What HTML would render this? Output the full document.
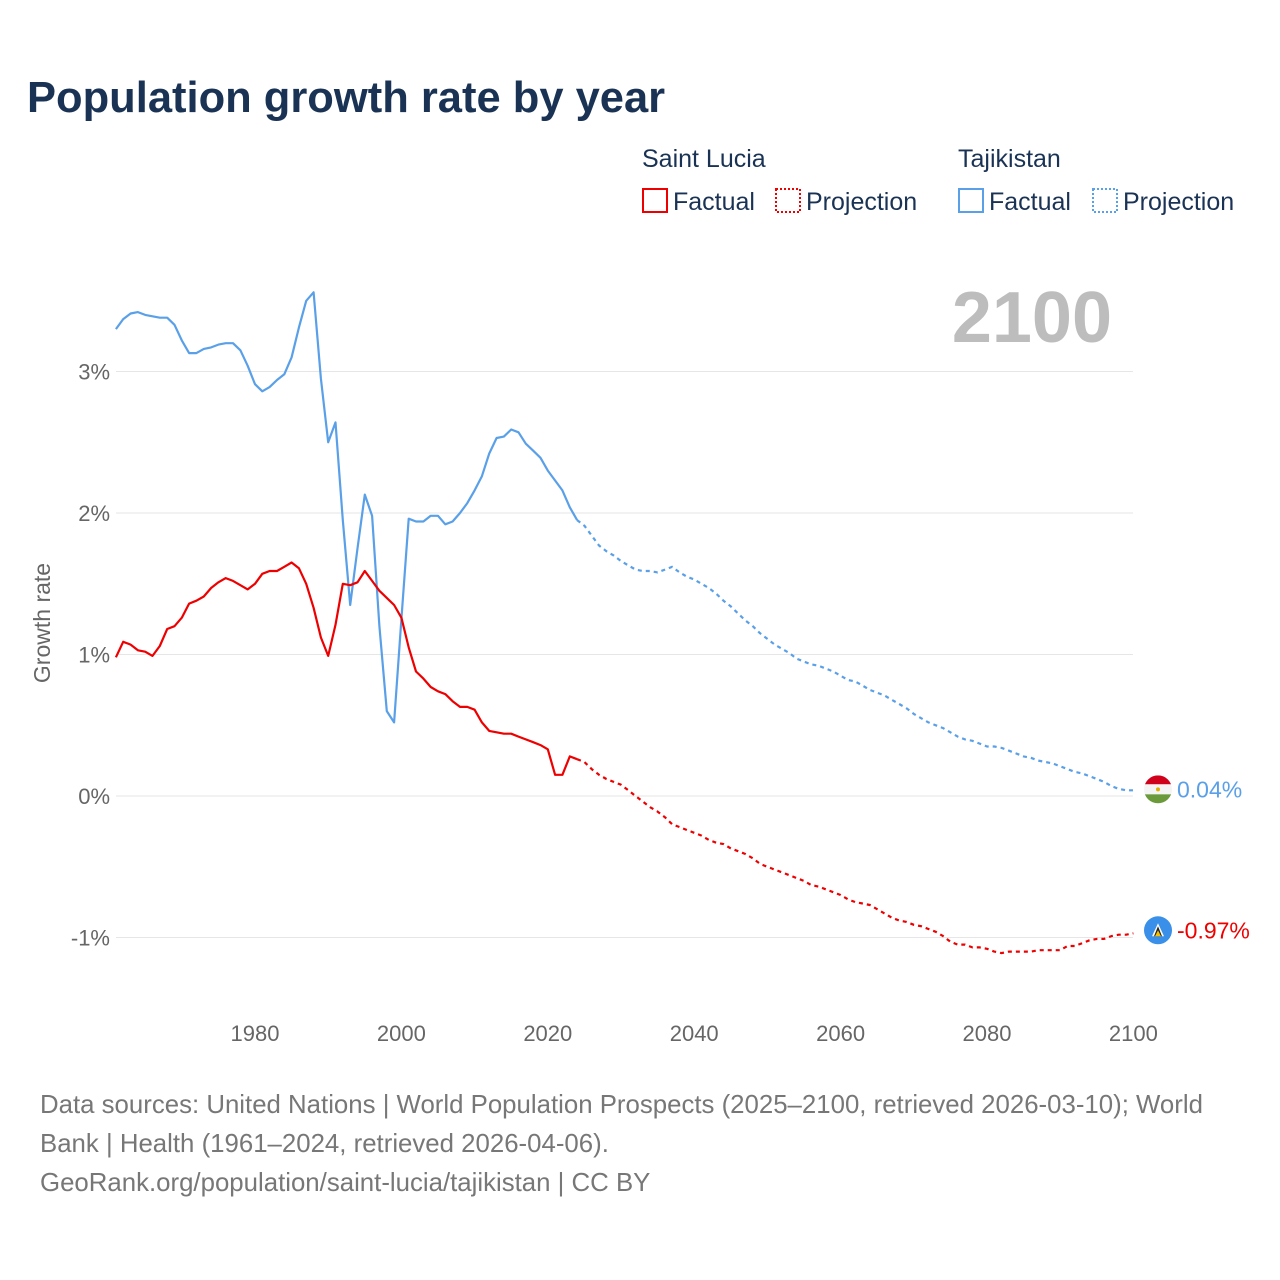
<!DOCTYPE html>
<html><head><meta charset="utf-8">
<style>
body{margin:0;background:#fff;font-family:"Liberation Sans",sans-serif;}
#wrap{position:relative;width:1280px;height:1280px;overflow:hidden;}
svg text{font-family:"Liberation Sans",sans-serif;}
</style></head>
<body>
<div id="wrap">
<svg id="chart" width="1280" height="1280">
<text x="27" y="112" font-size="43.5" font-weight="bold" fill="#1a3355">Population growth rate by year</text>
<g font-size="25" fill="#1a3355">
<text x="642" y="167">Saint Lucia</text>
<text x="958" y="167">Tajikistan</text>
<g><rect x="643" y="189" width="24" height="23" fill="none" stroke="#e00" stroke-width="2"/><text x="673" y="210">Factual</text></g>
<g><rect x="776" y="189" width="24" height="23" fill="none" stroke="#e00" stroke-width="2" stroke-dasharray="2,2"/><text x="806" y="210">Projection</text></g>
<g><rect x="959" y="189" width="24" height="23" fill="none" stroke="#5aa0e8" stroke-width="2"/><text x="989" y="210">Factual</text></g>
<g><rect x="1093" y="189" width="24" height="23" fill="none" stroke="#5aa0e8" stroke-width="2" stroke-dasharray="2,2"/><text x="1123" y="210">Projection</text></g>
</g>
<text x="1112" y="342" text-anchor="end" font-size="72" font-weight="bold" fill="#bdbdbd">2100</text>
<text transform="translate(50,623) rotate(-90)" text-anchor="middle" font-size="23" fill="#666">Growth rate</text>
<g id="grid"></g><g id="lines"></g><g id="ends"></g>
<g font-size="25.8" fill="#777">
<text x="40" y="1113">Data sources: United Nations | World Population Prospects (2025–2100, retrieved 2026-03-10); World</text>
<text x="40" y="1152">Bank | Health (1961–2024, retrieved 2026-04-06).</text>
<text x="40" y="1191">GeoRank.org/population/saint-lucia/tajikistan | CC BY</text>
</g>
</svg>
</div>
<script>
const yTicks=[3,2,1,0,-1];
const yTickLabels=["3%","2%","1%","0%","-1%"];
const xTicks=[1980,2000,2020,2040,2060,2080,2100];
const startYear=1961;
const tjFactual=[3.30,3.37,3.41,3.42,3.40,3.39,3.38,3.38,3.33,3.22,3.13,3.13,3.16,3.17,3.19,3.20,3.20,3.15,3.04,2.91,2.86,2.89,2.94,2.98,3.10,3.31,3.50,3.56,2.95,2.50,2.64,1.95,1.35,1.75,2.13,1.98,1.20,0.60,0.52,1.25,1.96,1.94,1.94,1.98,1.98,1.92,1.94,2.00,2.07,2.16,2.26,2.42,2.53,2.54,2.59,2.57,2.49,2.44,2.39,2.30,2.23,2.16,2.04,1.95];
const tjProj=[1.95,1.91,1.84,1.77,1.73,1.70,1.66,1.63,1.60,1.59,1.59,1.58,1.60,1.62,1.58,1.55,1.53,1.50,1.47,1.43,1.38,1.34,1.29,1.24,1.20,1.15,1.11,1.07,1.04,1.01,0.97,0.95,0.93,0.92,0.90,0.88,0.85,0.82,0.81,0.78,0.75,0.73,0.71,0.68,0.65,0.62,0.58,0.55,0.52,0.50,0.48,0.45,0.42,0.40,0.39,0.37,0.35,0.35,0.34,0.32,0.30,0.28,0.27,0.25,0.24,0.23,0.21,0.19,0.17,0.16,0.14,0.12,0.10,0.07,0.05,0.04,0.04];
const slFactual=[0.98,1.09,1.07,1.03,1.02,0.99,1.06,1.18,1.20,1.26,1.36,1.38,1.41,1.47,1.51,1.54,1.52,1.49,1.46,1.50,1.57,1.59,1.59,1.62,1.65,1.61,1.50,1.33,1.12,0.99,1.21,1.50,1.49,1.51,1.59,1.52,1.45,1.40,1.35,1.26,1.05,0.88,0.83,0.77,0.74,0.72,0.67,0.63,0.63,0.61,0.52,0.46,0.45,0.44,0.44,0.42,0.40,0.38,0.36,0.33,0.15,0.15,0.28,0.26];
const slProj=[0.26,0.24,0.19,0.15,0.12,0.10,0.08,0.04,0.00,-0.04,-0.08,-0.11,-0.15,-0.20,-0.22,-0.24,
-0.26,-0.28,-0.31,-0.33,-0.34,-0.37,-0.39,-0.41,-0.44,-0.48,-0.50,-0.52,-0.54,-0.56,-0.58,-0.60,
-0.63,-0.64,-0.66,-0.68,-0.70,-0.73,-0.75,-0.76,-0.77,-0.80,-0.83,-0.86,-0.88,-0.89,-0.91,-0.92,-0.94,-0.96,-0.99,-1.03,-1.05,-1.05,-1.07,-1.07,-1.08,-1.10,-1.11,-1.10,-1.10,-1.10,-1.10,-1.09,-1.09,-1.09,-1.09,-1.06,-1.06,-1.04,-1.02,-1.01,-1.01,-0.99,-0.98,-0.98,-0.97];
const NS="http://www.w3.org/2000/svg";
const xS=y=>255+(y-1980)*7.32;
const yS=v=>796-v*141.5;
const grid=document.getElementById('grid'),lines=document.getElementById('lines'),ends=document.getElementById('ends');
function mk(t,a,p){const e=document.createElementNS(NS,t);for(const k in a)e.setAttribute(k,a[k]);p.appendChild(e);return e;}
yTicks.forEach((v,i)=>{
 const l=mk('line',{x1:116,x2:1133,y1:yS(v),y2:yS(v),stroke:'#e6e6e6','stroke-width':1},grid);
 
 
 const t=mk('text',{x:110,y:yS(v)+8,'text-anchor':'end','font-size':22,fill:'#666'},grid);
 t.textContent=yTickLabels[i];
 
 
});
xTicks.forEach(v=>{
 const t=mk('text',{x:xS(v),y:1041,'text-anchor':'middle','font-size':22,fill:'#666'},grid);
 t.textContent=v;
 
 
});
function line(arr,y0,color,dash,name){
 const d=arr.map((v,i)=>(i?'L':'M')+xS(y0+i).toFixed(1)+','+yS(v).toFixed(1)).join('');
 const p=mk('path',{d:d,fill:'none',stroke:color,'stroke-width':2.2,'stroke-linejoin':'round'},lines);
 if(dash)p.setAttribute('stroke-dasharray','4,4');
 
 
}
line(tjFactual,startYear,'#5aa0e8',false,'tajikistan-factual-line');
line(tjProj,startYear+tjFactual.length-1,'#5aa0e8',true,'tajikistan-projection-line');
line(slFactual,startYear,'#e00',false,'saint-lucia-factual-line');
line(slProj,startYear+slFactual.length-1,'#e00',true,'saint-lucia-projection-line');
const tjLast=tjProj[tjProj.length-1], slLast=slProj[slProj.length-1];
const cx=1158;
const ty=yS(tjLast)-1;
const g1=mk('g',{},ends);


const cp=mk('clipPath',{id:'c1'},g1);
mk('circle',{cx:cx,cy:ty,r:14},cp);
mk('rect',{x:cx-14,y:ty-14,width:28,height:9,fill:'#d0021b','clip-path':'url(#c1)'},g1);
mk('rect',{x:cx-14,y:ty-5,width:28,height:10,fill:'#f4f4f4','clip-path':'url(#c1)'},g1);
mk('rect',{x:cx-14,y:ty+5,width:28,height:9,fill:'#6a9a3a','clip-path':'url(#c1)'},g1);
mk('circle',{cx:cx,cy:ty,r:2,fill:'#e0b000'},g1);
const t1=mk('text',{x:1177,y:ty+8,'font-size':23,fill:'#5aa0e8'},ends);
t1.textContent=tjLast.toFixed(2)+'%';


const sy=yS(slLast)-3;
const g2=mk('g',{},ends);


mk('circle',{cx:cx,cy:sy,r:14,fill:'#3a8fe8'},g2);
mk('polygon',{points:`${cx},${sy-7} ${cx-6},${sy+6} ${cx+6},${sy+6}`,fill:'#fff'},g2);
mk('polygon',{points:`${cx},${sy-4} ${cx-4},${sy+6} ${cx+4},${sy+6}`,fill:'#222'},g2);
mk('polygon',{points:`${cx},${sy} ${cx-3},${sy+6} ${cx+3},${sy+6}`,fill:'#f5c000'},g2);
const t2=mk('text',{x:1177,y:sy+8,'font-size':23,fill:'#e00'},ends);
t2.textContent=slLast.toFixed(2)+'%';


</script>
</body></html>
